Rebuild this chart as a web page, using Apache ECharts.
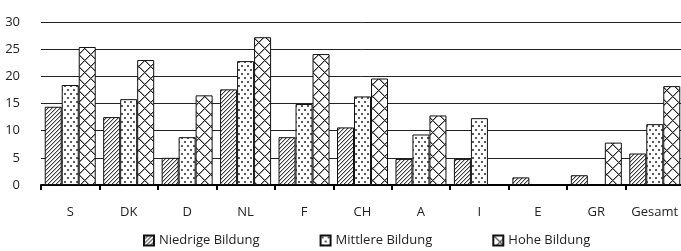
<!DOCTYPE html>
<html>
<head>
<meta charset="utf-8">
<script src="https://cdn.jsdelivr.net/npm/echarts@6/dist/echarts.min.js"></script>
<style>
  html, body { margin: 0; padding: 0; background: #fff; }
  #chart { width: 681px; height: 251px; }
</style>
</head>
<body>
<div id="chart"></div>
<script>
// Länder und Werte (%)
const laender = ['S', 'DK', 'D', 'NL', 'F', 'CH', 'A', 'I', 'E', 'GR', 'Gesamt'];
const niedrig = [14.4, 12.5, 5.0, 17.6, 8.8, 10.6, 4.8, 4.8, 1.4, 1.8, 5.8];
const mittel  = [18.4, 15.8, 8.8, 22.8, 14.9, 16.3, 9.3, 12.3, null, null, 11.2];
const hoch    = [25.4, 23.0, 16.5, 27.2, 24.1, 19.6, 12.8, null, null, 7.8, 18.2];
const yTicks = [0, 5, 10, 15, 20, 25, 30];

const FONT = '"Open Sans", sans-serif';

// kleine Muster als Canvas bauen
function makePattern(w, h, fn) {
  const c = document.createElement('canvas');
  c.width = w; c.height = h;
  const ctx = c.getContext('2d');
  const img = ctx.createImageData(w, h);
  for (let y = 0; y < h; y++) {
    for (let x = 0; x < w; x++) {
      const g = fn(x, y);
      const i = (y * w + x) * 4;
      img.data[i] = g; img.data[i + 1] = g; img.data[i + 2] = g; img.data[i + 3] = 255;
    }
  }
  ctx.putImageData(img, 0, 0);
  return { image: c, repeat: 'repeat' };
}

// schraffiert ///
const hatch = makePattern(4, 4, (x, y) => {
  const d = (x + y) % 4;
  if (d === 3) return 60;
  if (d === 0) return 190;
  return 255;
});

// gepunktet
const dots = makePattern(6, 8, (x, y) => {
  if ((x === 1 || x === 2) && (y === 1 || y === 2)) return 90;
  if ((x === 4 || x === 5) && (y === 5 || y === 6)) return 90;
  return 255;
});

// Kreuzschraffur (Rauten)
const P = 12;
const cross = makePattern(P, P, (x, y) => {
  const a = ((x - y) % P + P) % P;
  const b = (x + y) % P;
  if (a === 0 || b === 0) return 40;
  if (a === 1 || b === 1) return 160;
  return 255;
});

const chart = echarts.init(document.getElementById('chart'));

function bar(name, data, pattern) {
  return {
    name: name,
    type: 'bar',
    data: data,
    barWidth: 17,
    barGap: '0%',
    itemStyle: { color: pattern, borderColor: '#111', borderWidth: 1 }
  };
}

chart.setOption({
  animation: false,
  textStyle: { fontFamily: FONT },
  grid: { left: 41, right: -3, top: 22, bottom: 66, outerBoundsMode: 'none' },
  legend: {
    left: 143,
    top: 234,
    padding: 0,
    itemWidth: 10,
    itemHeight: 10,
    itemGap: 60,
    icon: 'rect',
    textStyle: { fontFamily: FONT, fontSize: 13, color: '#222' },
    data: ['Niedrige Bildung', 'Mittlere Bildung', 'Hohe Bildung']
  },
  xAxis: {
    type: 'category',
    data: laender,
    axisLine: { lineStyle: { color: '#000', width: 2 } },
    axisTick: { show: true, length: 5, lineStyle: { color: '#000', width: 2 } },
    axisLabel: { fontFamily: FONT, fontSize: 13, color: '#222', margin: 21, interval: 0 }
  },
  yAxis: {
    type: 'value',
    min: yTicks[0],
    max: yTicks[yTicks.length - 1],
    interval: 5,
    axisLine: { show: false },
    axisTick: { show: false },
    axisLabel: { fontFamily: FONT, fontSize: 13, color: '#222', margin: 21 },
    splitLine: { lineStyle: { color: '#222', width: 1 } }
  },
  series: [
    bar('Niedrige Bildung', niedrig, hatch),
    bar('Mittlere Bildung', mittel, dots),
    bar('Hohe Bildung', hoch, cross)
  ]
});
</script>
</body>
</html>
